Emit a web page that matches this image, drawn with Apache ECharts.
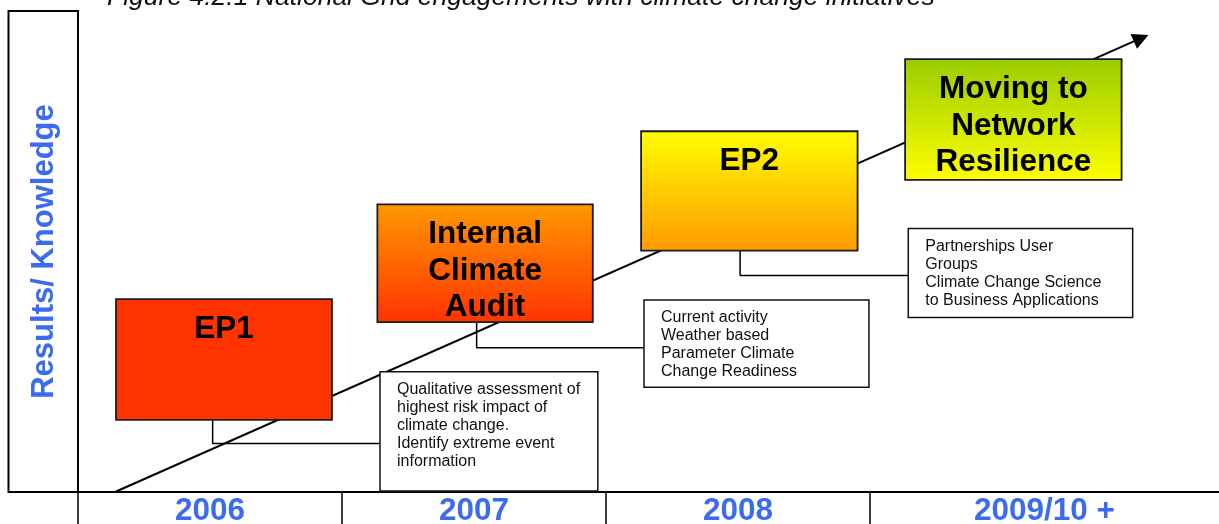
<!DOCTYPE html>
<html>
<head>
<meta charset="utf-8">
<script src="https://cdn.jsdelivr.net/npm/echarts@6/dist/echarts.min.js"></script>
<style>
html,body{margin:0;padding:0;background:#fff;overflow:hidden;}
#chart{width:1219px;height:524px;}
</style>
</head>
<body>
<div id="chart"></div>
<script>
// ---- data (x: years since start of 2006, y: results/knowledge level 0-100) ----
const years = ['2006', '2007', '2008', '2009/10 +'];
const yearStart = [0, 1, 2, 3];
const yearMid = [0.5, 1.5, 2.5, 3.661];
const axisEnd = 4.322;

const stageNames = ['EP1', 'Internal\nClimate\nAudit', 'EP2', 'Moving to\nNetwork\nResilience'];
const stageFrom = [0.144, 1.134, 2.133, 3.133];
const stageTo = [0.962, 1.950, 2.953, 3.953];
const stageLow = [15.0, 35.3, 50.2, 64.9];
const stageHigh = [40.1, 59.8, 75.0, 90.0];

const noteText = [
  'Qualitative assessment of\nhighest risk impact of\nclimate change.\nIdentify extreme event\ninformation',
  'Current activity\nWeather based\nParameter Climate\nChange Readiness',
  'Partnerships User\nGroups\nClimate Change Science\nto Business Applications'
];
const noteFrom = [1.144, 2.144, 3.145];
const noteTo = [1.969, 2.996, 3.995];
const noteLow = [0.2, 21.8, 36.3];
const noteHigh = [25.0, 39.9, 54.8];

const linkX = [0.51, 1.51, 2.508];
const linkY = [10.1, 30.0, 45.0];

const trendX = [0.14, 4.027];
const trendY = [0, 94.35];

const titleText = 'Figure 4.2.1 National Grid engagements with climate change initiatives';
const yName = 'Results/ Knowledge';

// ---- styles ----
const FONT = '"Liberation Sans", Arial, Helvetica, sans-serif';
const BLUE = '#3B6CF0';
const stageGradient = [
  ['#FF3300', '#FF3300'],
  ['#FF9900', '#FF3300'],
  ['#FFFF00', '#FF9900'],
  ['#99CC00', '#FFFF00']
];

const chart = echarts.init(document.getElementById('chart'), null, {renderer: 'canvas', width: 1219, height: 524});

const stageData = stageFrom.map((v, i) => [v, stageTo[i], stageLow[i], stageHigh[i]]);
const noteData = noteFrom.map((v, i) => [v, noteTo[i], noteLow[i], noteHigh[i]]);

const linkSeries = linkX.map((lx, i) => ({
  type: 'line',
  data: [[lx, stageLow[i]], [lx, linkY[i]], [noteFrom[i], linkY[i]]],
  symbol: 'none',
  lineStyle: {color: '#000', width: 1.5},
  silent: true,
  z: 2
}));

chart.setOption({
  animation: false,
  backgroundColor: '#fff',
  title: {
    text: titleText,
    left: 107,
    top: -16,
    padding: 0,
    textStyle: {fontFamily: FONT, fontStyle: 'italic', fontWeight: 'normal', fontSize: 26.5, color: '#111'}
  },
  grid: {left: 78, right: 0, top: 11, bottom: 32, containLabel: false, outerBoundsMode: 'none'},
  xAxis: {
    type: 'value',
    min: 0,
    max: axisEnd,
    splitLine: {show: false},
    axisLine: {show: true, onZero: false, lineStyle: {color: '#000', width: 2}},
    axisTick: {show: true, customValues: yearStart, length: 32, inside: false, lineStyle: {color: '#000', width: 1.5}},
    axisLabel: {
      show: true,
      customValues: yearMid,
      margin: 3,
      formatter: function (v) {
        let best = 0;
        yearMid.forEach((m, i) => { if (Math.abs(m - v) < Math.abs(yearMid[best] - v)) best = i; });
        return years[best];
      },
      fontFamily: FONT, fontSize: 31.5, fontWeight: 'bold', color: BLUE
    }
  },
  yAxis: {
    type: 'value',
    min: 0,
    max: 100,
    name: yName,
    nameLocation: 'middle',
    nameRotate: 90,
    nameGap: 18,
    nameTextStyle: {fontFamily: FONT, fontSize: 31, fontWeight: 'bold', color: BLUE},
    splitLine: {show: false},
    axisLine: {show: true, onZero: false, lineStyle: {color: '#000', width: 1.5}},
    axisTick: {show: false},
    axisLabel: {show: false}
  },
  graphic: [{
    type: 'rect',
    shape: {x: 8.5, y: 11, width: 69.5, height: 481},
    style: {fill: 'none', stroke: '#000', lineWidth: 2},
    z: 0,
    silent: true
  }],
  series: [
    {
      type: 'line',
      data: [],
      silent: true,
      z: 1,
      markLine: {
        silent: true,
        symbol: ['none', 'triangle'],
        symbolSize: 16,
        label: {show: false},
        lineStyle: {color: '#000', width: 2, type: 'solid'},
        itemStyle: {color: '#000'},
        data: [[{coord: [trendX[0], trendY[0]]}, {coord: [trendX[1], trendY[1]]}]]
      }
    },
    ...linkSeries,
    {
      type: 'custom',
      z: 5,
      silent: true,
      data: stageData,
      encode: {x: [0, 1], y: [2, 3]},
      renderItem: function (params, api) {
        const i = params.dataIndex;
        const tl = api.coord([api.value(0), api.value(3)]);
        const br = api.coord([api.value(1), api.value(2)]);
        const g = stageGradient[i];
        return {
          type: 'group',
          children: [
            {
              type: 'rect',
              shape: {x: tl[0], y: tl[1], width: br[0] - tl[0], height: br[1] - tl[1]},
              style: {
                fill: new echarts.graphic.LinearGradient(0, 0, 0, 1, [{offset: 0, color: g[0]}, {offset: 1, color: g[1]}]),
                stroke: '#1c1c1c', lineWidth: 1.8
              }
            },
            {
              type: 'text',
              x: (tl[0] + br[0]) / 2,
              y: tl[1] + 12,
              style: {
                text: stageNames[i], align: 'center', verticalAlign: 'top',
                font: 'bold 31.5px ' + FONT, lineHeight: 36.5, fill: '#000'
              }
            }
          ]
        };
      }
    },
    {
      type: 'custom',
      z: 5,
      silent: true,
      data: noteData,
      encode: {x: [0, 1], y: [2, 3]},
      renderItem: function (params, api) {
        const i = params.dataIndex;
        const tl = api.coord([api.value(0), api.value(3)]);
        const br = api.coord([api.value(1), api.value(2)]);
        return {
          type: 'group',
          children: [
            {
              type: 'rect',
              shape: {x: tl[0], y: tl[1], width: br[0] - tl[0], height: br[1] - tl[1]},
              style: {fill: '#fff', stroke: '#111', lineWidth: 1.5}
            },
            {
              type: 'text',
              x: tl[0] + 17,
              y: tl[1] + 9,
              style: {
                text: noteText[i], align: 'left', verticalAlign: 'top',
                font: '16px ' + FONT, lineHeight: 18, fill: '#111'
              }
            }
          ]
        };
      }
    }
  ]
});
</script>
</body>
</html>
